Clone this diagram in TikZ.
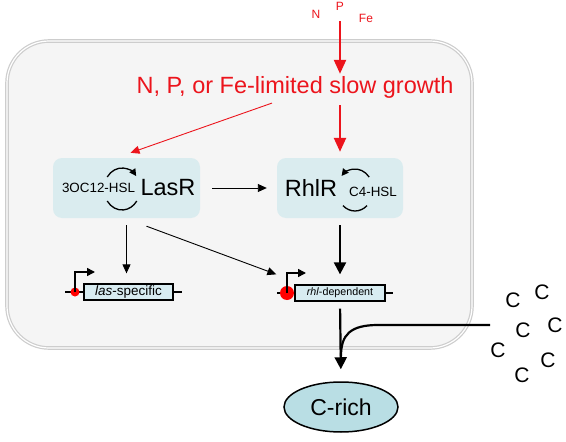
\documentclass[tikz,border=0pt]{standalone}
\usepackage{fontspec}
\setmainfont{Liberation Sans}
\usetikzlibrary{arrows.meta,shapes.geometric}

\definecolor{cellgray}{RGB}{245,245,245}
\definecolor{cellline}{RGB}{205,205,205}
\definecolor{boxblue}{RGB}{218,236,239}
\definecolor{genefill}{RGB}{216,236,241}
\definecolor{crichfill}{RGB}{185,222,228}
\definecolor{limitred}{RGB}{236,20,28}

\begin{document}
\begin{tikzpicture}[x=1pt,y=-1pt,
	nutrient/.style={text=limitred, inner sep=0pt, font=\fontsize{12}{14}\selectfont},
	limit/.style={text=limitred, inner sep=0pt, font=\fontsize{23.5}{28}\selectfont},
	qsbox/.style={fill=boxblue, rounded corners=9pt, minimum height=60pt},
	qslabel/.style={inner sep=0pt, font=\fontsize{23.5}{28}\selectfont},
	hsl/.style={inner sep=0pt, font=\fontsize{13.4}{15}\selectfont},
	genebox/.style={draw, line width=1.3pt, fill=genefill, inner sep=0pt, minimum height=16pt},
	geneline/.style={line width=1.8pt},
	prodot/.style={circle, fill=red, inner sep=0pt},
	promoter/.style={line width=1.5pt, -{Triangle[length=8pt,width=8pt]}},
	cycarr/.style={line width=1.3pt, -{Triangle[length=7pt,width=7pt]}},
	cycline/.style={line width=1.3pt},
	thinarr/.style={line width=0.9pt, -{Triangle[length=9pt,width=8pt]}},
	thickarr/.style={line width=2.2pt, -{Triangle[length=12pt,width=12pt]}},
	redthin/.style={limitred, line width=0.9pt, -{Triangle[length=9pt,width=8pt]}},
	redthick/.style={limitred, line width=2.4pt, -{Triangle[length=14pt,width=12pt]}},
	crich/.style={ellipse, draw, line width=1.5pt, fill=crichfill, inner sep=0pt,
		minimum width=114pt, minimum height=50pt, font=\fontsize{23}{27}\selectfont},
	carbon/.style={inner sep=0pt, font=\fontsize{21}{24}\selectfont}
	]
	\useasboundingbox (0,0) rectangle (566,442);
	
	% cell
	\draw[cellline, line width=1.2pt, double=white, double distance=1.2pt, fill=cellgray,
		rounded corners=42pt] (7,41) rectangle (472,348);
	
	\node[nutrient] (n) at (316,14) {N};
	\node[nutrient] (p) at (340,6) {P};
	\node[nutrient] (fe) at (366,18) {Fe};
	\node[limit, anchor=base] (limit) at (295,93) {N, P, or Fe-limited slow growth};
	
	\node[qsbox, minimum width=147pt] (lasr) at (126.5,188) {};
	\node[qsbox, minimum width=126pt] (rhlr) at (340,188) {};
	\node[qslabel] (lasname) at (168,188) {LasR};
	\node[hsl] (oc12) at (98.5,188) {3OC12-HSL};
	\node[qslabel] (rhlname) at (311,188) {RhlR};
	\node[hsl] (c4) at (373,192) {C4-HSL};
	
	\coordinate (lascyc) at (122,189);
	\coordinate (rhlcyc) at (355,190);
	\draw[cycarr] ([shift={(215:18 and 21)}]lascyc) arc[start angle=215, end angle=322, x radius=18, y radius=21];
	\draw[cycline] ([shift={(145:18 and 21)}]lascyc) arc[start angle=145, end angle=35, x radius=18, y radius=21];
	\draw[cycarr] ([shift={(322:18 and 21)}]rhlcyc) arc[start angle=322, end angle=222, x radius=18, y radius=21];
	\draw[cycline] ([shift={(132:18 and 21)}]rhlcyc) arc[start angle=132, end angle=48, x radius=18, y radius=21];
	
	% genes
	\draw[geneline] (65,292) -- (182,292);
	\node[genebox, minimum width=89pt, font=\fontsize{13.5}{15}\selectfont] (lasgene) at (128.5,292) {\textit{las}-specific};
	\node[prodot, minimum size=9pt] (laspro) at (75,292) {};
	\draw[promoter] (laspro.center) -- ++(0,-20) -- ++(20,0);
	
	\draw[geneline] (277,293) -- (393,293);
	\node[genebox, minimum width=90pt, font=\fontsize{10.7}{12}\selectfont] (rhlgene) at (340,293) {\textit{rhl}-dependent};
	\node[prodot, minimum size=14pt] (rhlpro) at (287,293) {};
	\draw[promoter] (rhlpro.center) -- ++(0,-20) -- ++(19,0);
	
	\node[crich] (crich) at (341,407) {C-rich};
	
	\node[carbon] (c1) at (513,300) {C};
	\node[carbon] (c2) at (542,292) {C};
	\node[carbon] (c3) at (523,330) {C};
	\node[carbon] (c4) at (555,325) {C};
	\node[carbon] (c5) at (498,350) {C};
	\node[carbon] (c6) at (548,360) {C};
	\node[carbon] (c7) at (522,375) {C};
	
	% arrows
	\draw[redthick, shorten <=11pt, shorten >=2pt] (p.south) -- (limit.north -| p);
	\draw[redthick, shorten <=7pt, shorten >=6pt] (limit.south -| rhlr) -- (rhlr.north);
	\draw[redthin] ([shift={(-23,5)}]limit.south) -- ([shift={(4,-5)}]lasr.north);
	
	\draw[thinarr, shorten <=12pt, shorten >=10pt] (lasr) -- (rhlr);
	\draw[thinarr, shorten <=7pt, shorten >=10pt] (lasr.south) -- (lasr.south |- lasgene.north);
	\draw[thinarr] ([shift={(20,8)}]lasr.south) -- ([shift={(-18,-10)}]rhlgene.north west);
	\draw[thickarr, shorten <=7pt, shorten >=10pt] (rhlr.south) -- (rhlgene.north);
	\draw[thickarr, shorten <=7pt, shorten >=12pt] (rhlgene.south) -- (crich.north);
	
	\coordinate (cfeed) at (490,325);
	\coordinate (cjoin) at (341,356);
	\draw[line width=2.2pt] (cfeed) -- (378,325) .. controls (350,325) and (341,335) .. (cjoin);
	
\end{tikzpicture}
\end{document}
